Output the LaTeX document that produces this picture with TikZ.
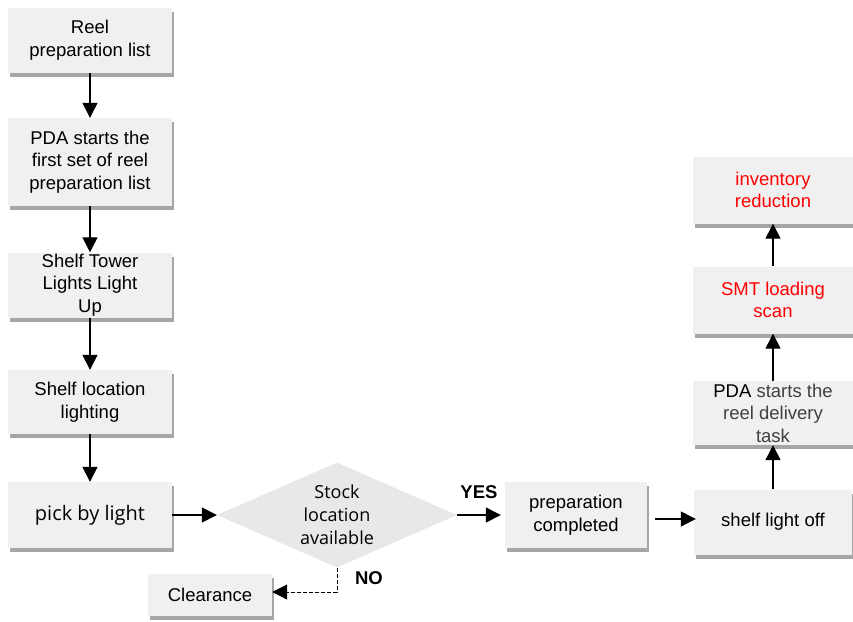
\documentclass[tikz,border=0pt]{standalone}
\usepackage{fontspec}
\setmainfont{Liberation Sans}
\newfontfamily\pickfont{Open Sans}
\usetikzlibrary{shapes.geometric,arrows.meta,shadows}
\definecolor{boxgray}{HTML}{F0F0F0}
\definecolor{diagray}{HTML}{E8E8E8}
\definecolor{textgray}{HTML}{404040}
\tikzset{
    box/.style={fill=boxgray, minimum width=164pt, minimum height=65pt, align=center, inner sep=1pt,
        font=\fontsize{18.5}{22.5}\selectfont,
        drop shadow={shadow xshift=2pt, shadow yshift=-4pt, fill=black, opacity=0.35}},
    arr/.style={line width=1.3pt, -{Triangle[length=15pt,width=15pt]}},
    lbl/.style={font=\bfseries\fontsize{18.5}{22}\selectfont}
}

\begin{document}
\begin{tikzpicture}[x=1pt, y=-1pt]
    \useasboundingbox (0,0) rectangle (853,621);
    % left column
    \node[box] (reel) at (90,40) {Reel\\preparation list};
    \node[box, minimum height=88pt] (pdafirst) at (90,162) {PDA starts the\\first set of reel\\preparation list};
    \node[box] (tower) at (90,285) {Shelf Tower\\Lights Light\\Up};
    \node[box, minimum height=64pt] (location) at (90,402) {Shelf location\\lighting};
    \node[box, minimum height=66pt, font=\pickfont\fontsize{20}{24}\selectfont] (pick) at (90,515) {pick by light};
    \foreach \a/\b in {reel/pdafirst, pdafirst/tower, tower/location, location/pick}
        \draw[arr] (\a) -- (\b);

    % decision
    \node[diamond, aspect=2.3, fill=diagray, minimum width=240pt, minimum height=105pt, inner sep=0pt,
        align=center, font=\pickfont\fontsize{18}{23}\selectfont] (stock) at (337,515) {Stock\\location\\available};
    \node[box, minimum width=124pt, minimum height=42pt] (clear) at (210,595) {Clearance};
    \node[box, minimum width=142pt, minimum height=66pt] (prep) at (576,515) {preparation\\completed};
    \node[lbl] (yes) at (479,492) {YES};
    \node[lbl] (no) at (369,578) {NO};
    \draw[arr] (pick) -- (stock);
    \draw[arr, shorten >=4pt] (stock) -- (prep);
    \draw[arr, line width=1pt, dash pattern=on 4pt off 2pt] (stock.south) |- ([yshift=3pt]clear.east);

    % right column
    \node[box, minimum width=158pt] (lightoff) at (773,522) {shelf light off};
    \node[box, minimum width=161pt, minimum height=64pt, text=textgray] (delivery) at (773,413) {\textcolor{black}{PDA} starts the\\reel delivery\\task};
    \node[box, minimum width=161pt, minimum height=67pt, text=red] (smt) at (773,300) {SMT loading\\scan};
    \node[box, minimum width=161pt, minimum height=67pt, text=red] (inventory) at (773,190) {inventory\\reduction};
    \draw[arr, shorten <=8pt, shorten >=-2pt] ([yshift=-4pt]prep.east) -- ([yshift=3pt]lightoff.west);
    \foreach \a/\b in {lightoff/delivery, delivery/smt, smt/inventory}
        \draw[arr] (\a) -- (\b);
\end{tikzpicture}
\end{document}
